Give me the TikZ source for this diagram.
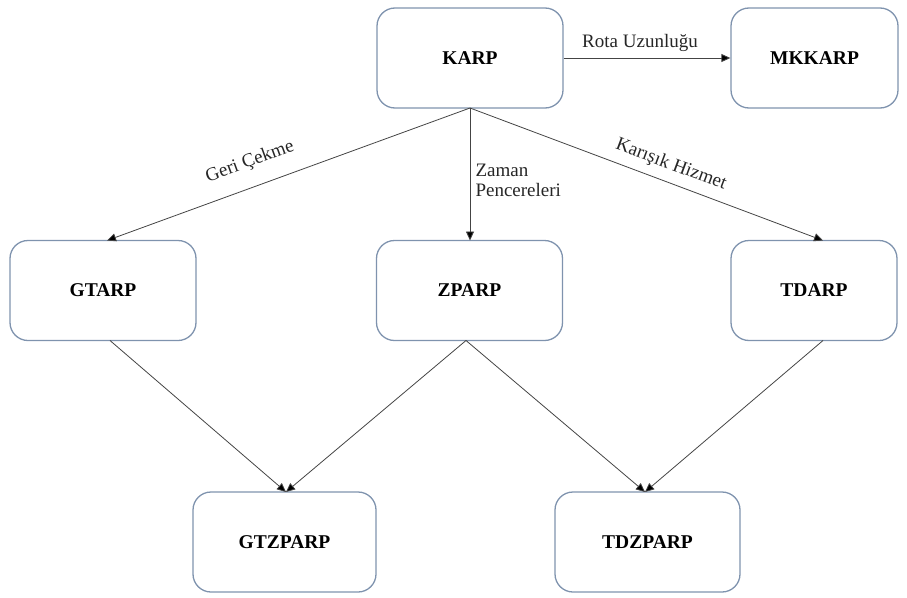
\documentclass[tikz,border=0pt]{standalone}
\usepackage{fontspec}
\setmainfont{Liberation Serif}
\usetikzlibrary{arrows.meta}
\definecolor{boxedge}{HTML}{7F93AE}
\definecolor{linec}{HTML}{444444}
\begin{document}
\begin{tikzpicture}[x=1pt,y=-1pt,
  box/.style={draw=boxedge,line width=1.3pt,rounded corners=18pt,minimum width=186pt,minimum height=100pt,inner sep=0pt,font=\fontsize{19.5}{22}\selectfont\bfseries},
  conn/.style={draw=linec,line width=0.8pt,-{Triangle[length=9pt,width=8pt,fill=black]}},
  lbl/.style={font=\fontsize{19}{21}\selectfont,text=black!85}]
\useasboundingbox (0,0) rectangle (907,597);
\node[box] (karp) at (470,58) {KARP};
\node[box,minimum width=167pt] (mkkarp) at (814.5,58) {MKKARP};
\node[box] (gtarp) at (103,290.5) {GTARP};
\node[box] (zparp) at (469.5,290.5) {ZPARP};
\node[box,minimum width=166pt] (tdarp) at (814,290.5) {TDARP};
\node[box,minimum width=183pt] (gtzparp) at (284.5,542) {GTZPARP};
\node[box,minimum width=185pt] (tdzparp) at (647.5,542) {TDZPARP};
\coordinate (kb) at (470,108);
\coordinate (gtt) at (107,240.5);
\coordinate (zpt) at (470,240.5);
\coordinate (tdt) at (823,240.5);
\coordinate (gtb) at (110,340.5);
\coordinate (zpb) at (466,340.5);
\coordinate (tdb) at (823,340.5);
\coordinate (gtzt) at (286,492);
\coordinate (tdzt) at (645,492);
\draw[conn] (karp.east) -- (mkkarp.west);
\node[lbl] (rota) at (640,43) {Rota Uzunluğu};
\draw[conn] (kb) -- (gtt);
\draw[conn] (kb) -- (zpt);
\draw[conn] (kb) -- (tdt);
\node[lbl,rotate=20] (geri) at (250,162) {Geri Çekme};
\node[lbl,rotate=-20.5] (kar) at (671,165) {Karışık Hizmet};
\node[lbl,align=left,anchor=west] (zaman) at (472,180) {Zaman\\[-1pt]Pencereleri};
\draw[conn] (gtb) -- (gtzt);
\draw[conn] (zpb) -- (gtzt);
\draw[conn] (zpb) -- (tdzt);
\draw[conn] (tdb) -- (tdzt);
\end{tikzpicture}
\end{document}
